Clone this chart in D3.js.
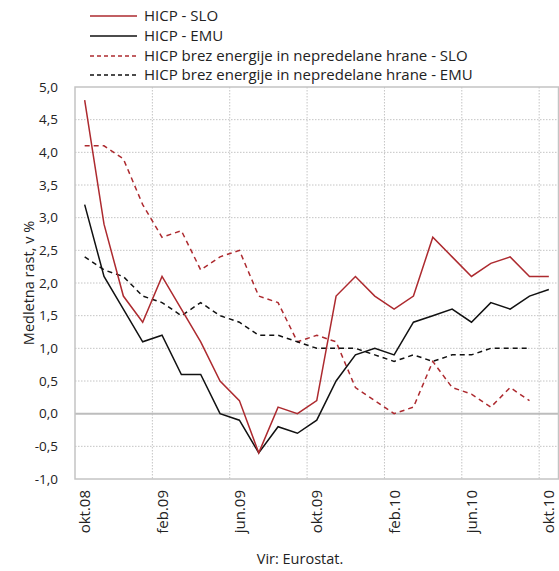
<!DOCTYPE html>
<html><head><meta charset="utf-8">
<script src="https://cdn.jsdelivr.net/npm/d3@7"></script>
<style>body{margin:0;background:#fff}svg{display:block;font-family:"Open Sans",sans-serif}</style>
</head><body><svg id="c" width="559" height="571"></svg>
<script>
const months = ["okt.08","nov.08","dec.08","jan.09","feb.09","mar.09","apr.09","maj.09","jun.09","jul.09","avg.09","sep.09","okt.09","nov.09","dec.09","jan.10","feb.10","mar.10","apr.10","maj.10","jun.10","jul.10","avg.10","sep.10","okt.10"];
const tickLabels = ["okt.08","feb.09","jun.09","okt.09","feb.10","jun.10","okt.10"];
const hicpSlo = [4.8,2.9,1.8,1.4,2.1,1.6,1.1,0.5,0.2,-0.6,0.1,0.0,0.2,1.8,2.1,1.8,1.6,1.8,2.7,2.4,2.1,2.3,2.4,2.1,2.1];
const hicpEmu = [3.2,2.1,1.6,1.1,1.2,0.6,0.6,0.0,-0.1,-0.6,-0.2,-0.3,-0.1,0.5,0.9,1.0,0.9,1.4,1.5,1.6,1.4,1.7,1.6,1.8,1.9];
const coreSlo = [4.1,4.1,3.9,3.2,2.7,2.8,2.2,2.4,2.5,1.8,1.7,1.1,1.2,1.1,0.4,0.2,0.0,0.1,0.8,0.4,0.3,0.1,0.4,0.2,null];
const coreEmu = [2.4,2.2,2.1,1.8,1.7,1.5,1.7,1.5,1.4,1.2,1.2,1.1,1.0,1.0,1.0,0.9,0.8,0.9,0.8,0.9,0.9,1.0,1.0,1.0,null];
const yTicks = [-1,-0.5,0,0.5,1,1.5,2,2.5,3,3.5,4,4.5,5];
const seriesNames = ["HICP - SLO","HICP - EMU","HICP brez energije in nepredelane hrane - SLO","HICP brez energije in nepredelane hrane - EMU"];

const RED = "#ad2a2f", BLACK = "#111";
const svg = d3.select("#c");
const L = 75, R = 558.5, T = 87, B = 479;
const x = d3.scaleBand().domain(months).range([L, R]);
const y = d3.scaleLinear().domain([-1, 5]).range([B, T]);
const fmt = v => d3.format(".1f")(v).replace(".", ",").replace("−","-");

// horizontal grid
svg.append("g").selectAll("line").data(yTicks.filter(v => v !== 0 && v !== -1 && v !== 5)).join("line")
  .attr("x1", L).attr("x2", R).attr("y1", d => y(d)).attr("y2", d => y(d))
  .attr("stroke", "#c4c4c4").attr("stroke-width", 1).attr("stroke-dasharray", "1.5,1.5");
// vertical grid at boundaries every 4 months
const vIdx = d3.range(4, months.length, 4);
svg.append("g").selectAll("line").data(vIdx).join("line")
  .attr("x1", i => x(months[i])).attr("x2", i => x(months[i]))
  .attr("y1", T).attr("y2", B)
  .attr("stroke", "#c4c4c4").attr("stroke-width", 1).attr("stroke-dasharray", "1.5,1.5");
// zero line
svg.append("line").attr("x1", L).attr("x2", R).attr("y1", y(0)).attr("y2", y(0))
  .attr("stroke", "#bdbdbd").attr("stroke-width", 2);
// border
svg.append("rect").attr("x", L).attr("y", T).attr("width", R - L).attr("height", B - T)
  .attr("fill", "none").attr("stroke", "#c4c4c4").attr("stroke-width", 1.5);

// y axis labels
svg.append("g").selectAll("text").data(yTicks).join("text")
  .attr("x", 58).attr("y", d => y(d)).attr("dy", "0.35em").attr("text-anchor", "end")
  .attr("font-size", 13.5).attr("fill", "#222").text(fmt);
svg.append("text").attr("transform", `translate(34,${(T + B) / 2}) rotate(-90)`)
  .attr("text-anchor", "middle").attr("font-size", 14.5).attr("fill", "#222").text("Medletna rast, v %");

// x labels
svg.append("g").selectAll("text").data(tickLabels).join("text")
  .attr("transform", d => `translate(${x(d) + x.bandwidth() / 2 + 5.5},${B + 11}) rotate(-90)`)
  .attr("text-anchor", "end").attr("font-size", 15).attr("fill", "#222").text(d => d);
svg.append("text").attr("x", 300).attr("y", 564).attr("text-anchor", "middle")
  .attr("font-size", 14.5).attr("fill", "#222").text("Vir: Eurostat.");

// lines
const cx = i => x(months[i]) + x.bandwidth() / 2;
const line = d3.line().defined(d => d != null).x((d, i) => cx(i)).y(d => y(d));
const specs = [
  {data: coreSlo, color: RED, dash: "5,4"},
  {data: coreEmu, color: BLACK, dash: "5,4"},
  {data: hicpEmu, color: BLACK, dash: null},
  {data: hicpSlo, color: RED, dash: null}
];
specs.forEach(s => {
  svg.append("path").attr("d", line(s.data)).attr("fill", "none")
    .attr("stroke", s.color).attr("stroke-width", 1.5)
    .attr("stroke-dasharray", s.dash);
});

// legend
const legColors = [RED, BLACK, RED, BLACK];
const legDash = [null, null, "4,3", "4,3"];
const legY = [16, 36, 56, 75];
seriesNames.forEach((n, i) => {
  svg.append("line").attr("x1", 90).attr("x2", 137).attr("y1", legY[i]).attr("y2", legY[i])
    .attr("stroke", legColors[i]).attr("stroke-width", 1.5).attr("stroke-dasharray", legDash[i]);
  svg.append("text").attr("x", 144).attr("y", legY[i]).attr("dy", "0.35em")
    .attr("font-size", 15).attr("fill", "#222").text(n);
});
</script></body></html>
